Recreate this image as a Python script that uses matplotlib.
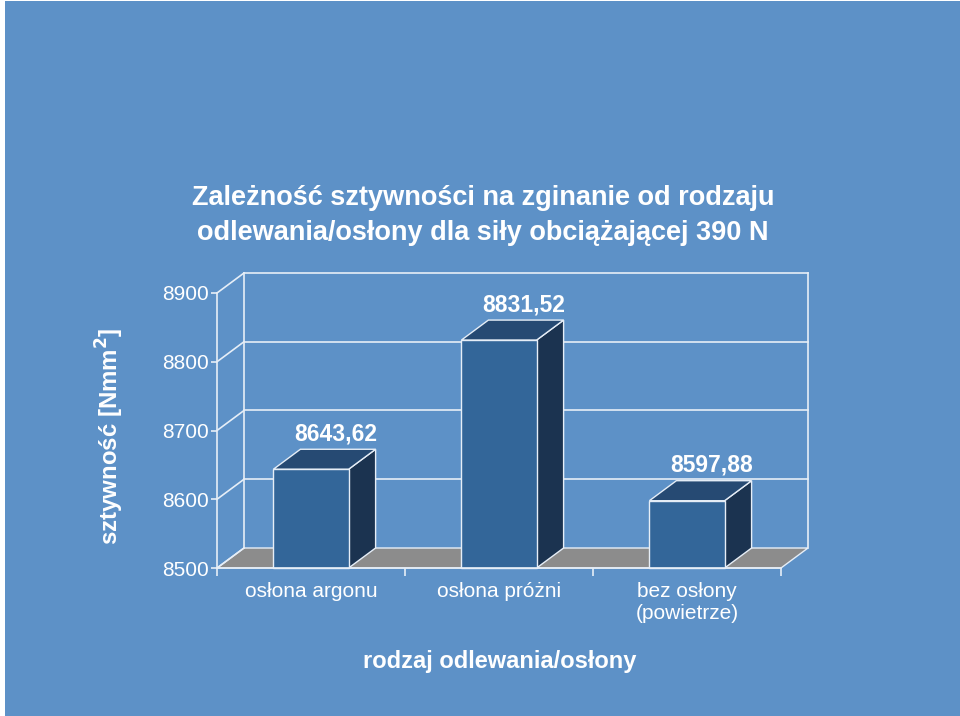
import matplotlib.pyplot as plt
from matplotlib.patches import Polygon, Rectangle

plt.rcParams['font.family'] = ['Liberation Sans', 'DejaVu Sans']

# dane z wykresu
kategorie = ["osłona argonu", "osłona próżni", "bez osłony\n(powietrze)"]
wartosci = [8643.62, 8831.52, 8597.88]
etykiety = ["8643,62", "8831,52", "8597,88"]
y_ticks = [8500, 8600, 8700, 8800, 8900]
tytul = ["Zależność sztywności na zginanie od rodzaju",
         "odlewania/osłony dla siły obciążającej 390 N"]

TLO = '#5d91c7'
FRONT = '#336699'
BOK = '#1b3350'
GORA = '#264a73'
PODLOGA = '#8c8c8c'
LINIA = '#e6eef7'

Y0, Y1 = 8500, 8900
DX = 27 / 564 * 3      # glebokosc w jednostkach kategorii
DY = 20 / 275 * 400    # glebokosc w jednostkach wartosci
W = 0.4

fig = plt.figure(figsize=(9.6, 7.16), dpi=100, facecolor='white')
fig.patches.append(Rectangle((5 / 960, 0), 1, 1 - 1 / 716, transform=fig.transFigure,
                             facecolor=TLO, edgecolor='none', zorder=-10))

ax = fig.add_axes([217 / 960, 148 / 716, 564 / 960, 275 / 716])
ax.set_facecolor('none')
ax.set_xlim(-0.5, 2.5)
ax.set_ylim(Y0, Y1)

def wielokat(pts, fc, z, ec=LINIA, lw=1.0):
    p = Polygon(pts, closed=True, facecolor=fc, edgecolor=ec, linewidth=lw,
                zorder=z, clip_on=False)
    ax.add_patch(p)

# podloga
x_l, x_r = -0.5, 2.5
wielokat([(x_l, Y0), (x_r, Y0), (x_r + DX, Y0 + DY), (x_l + DX, Y0 + DY)], PODLOGA, 1)

# sciany: linie siatki
for v in y_ticks[1:]:
    ax.plot([x_l + DX, x_r + DX], [v + DY, v + DY], color=LINIA, lw=1.2, zorder=2, clip_on=False)
for v in y_ticks:
    ax.plot([x_l, x_l + DX], [v, v + DY], color=LINIA, lw=1.2, zorder=2, clip_on=False)
ax.plot([x_l + DX, x_l + DX], [Y0 + DY, Y1 + DY], color=LINIA, lw=1.2, zorder=2, clip_on=False)
ax.plot([x_r + DX, x_r + DX], [Y0 + DY, Y1 + DY], color=LINIA, lw=1.2, zorder=2, clip_on=False)

# slupki 3D
for i, (v, lab) in enumerate(zip(wartosci, etykiety)):
    a, b = i - W / 2, i + W / 2
    wielokat([(b, Y0), (b + DX, Y0 + DY), (b + DX, v + DY), (b, v)], BOK, 5)
    wielokat([(a, v), (b, v), (b + DX, v + DY), (a + DX, v + DY)], GORA, 5)
    wielokat([(a, Y0), (b, Y0), (b, v), (a, v)], FRONT, 6)
    ax.annotate(lab, (i + DX * 0.9, v + DY), xytext=(0, 6.5), textcoords='offset points',
                ha='center', va='baseline', fontsize=16.5, fontweight='bold', color='white',
                zorder=10, annotation_clip=False)

# osie
for s in ['top', 'right']:
    ax.spines[s].set_visible(False)
for s in ['left', 'bottom']:
    ax.spines[s].set_color(LINIA)
    ax.spines[s].set_linewidth(1.2)
    ax.spines[s].set_zorder(8)

ax.set_yticks(y_ticks)
ax.set_yticklabels([str(t) for t in y_ticks])
ax.tick_params(axis='y', colors=LINIA, labelcolor='white', labelsize=15, length=4, width=1.2, pad=2)

ax.set_xticks([-0.5, 0.5, 1.5, 2.5])
ax.set_xticklabels([])
ax.tick_params(axis='x', which='major', colors=LINIA, length=6, width=1.2, direction='out')
ax.set_xticks([0, 1, 2], minor=True)
ax.set_xticklabels(kategorie, minor=True)
ax.tick_params(axis='x', which='minor', length=0, labelsize=15, labelcolor='white', pad=10)

# teksty
fig.text(483 / 960, 1 - 205 / 716, tytul[0], ha='center', va='baseline',
         fontsize=19.5, fontweight='bold', color='white')
fig.text(483 / 960, 1 - 240 / 716, tytul[1], ha='center', va='baseline',
         fontsize=19.5, fontweight='bold', color='white')
fig.text(110 / 960, 1 - 436 / 716, "sztywność [Nmm$^\\mathbf{2}$]", rotation=90,
         ha='center', va='center', fontsize=17.3, fontweight='bold', color='white')
fig.text(500 / 960, 1 - 668 / 716, "rodzaj odlewania/osłony",
         ha='center', va='baseline', fontsize=17, fontweight='bold', color='white')

fig.savefig('out.png', dpi=100, facecolor=fig.get_facecolor())
